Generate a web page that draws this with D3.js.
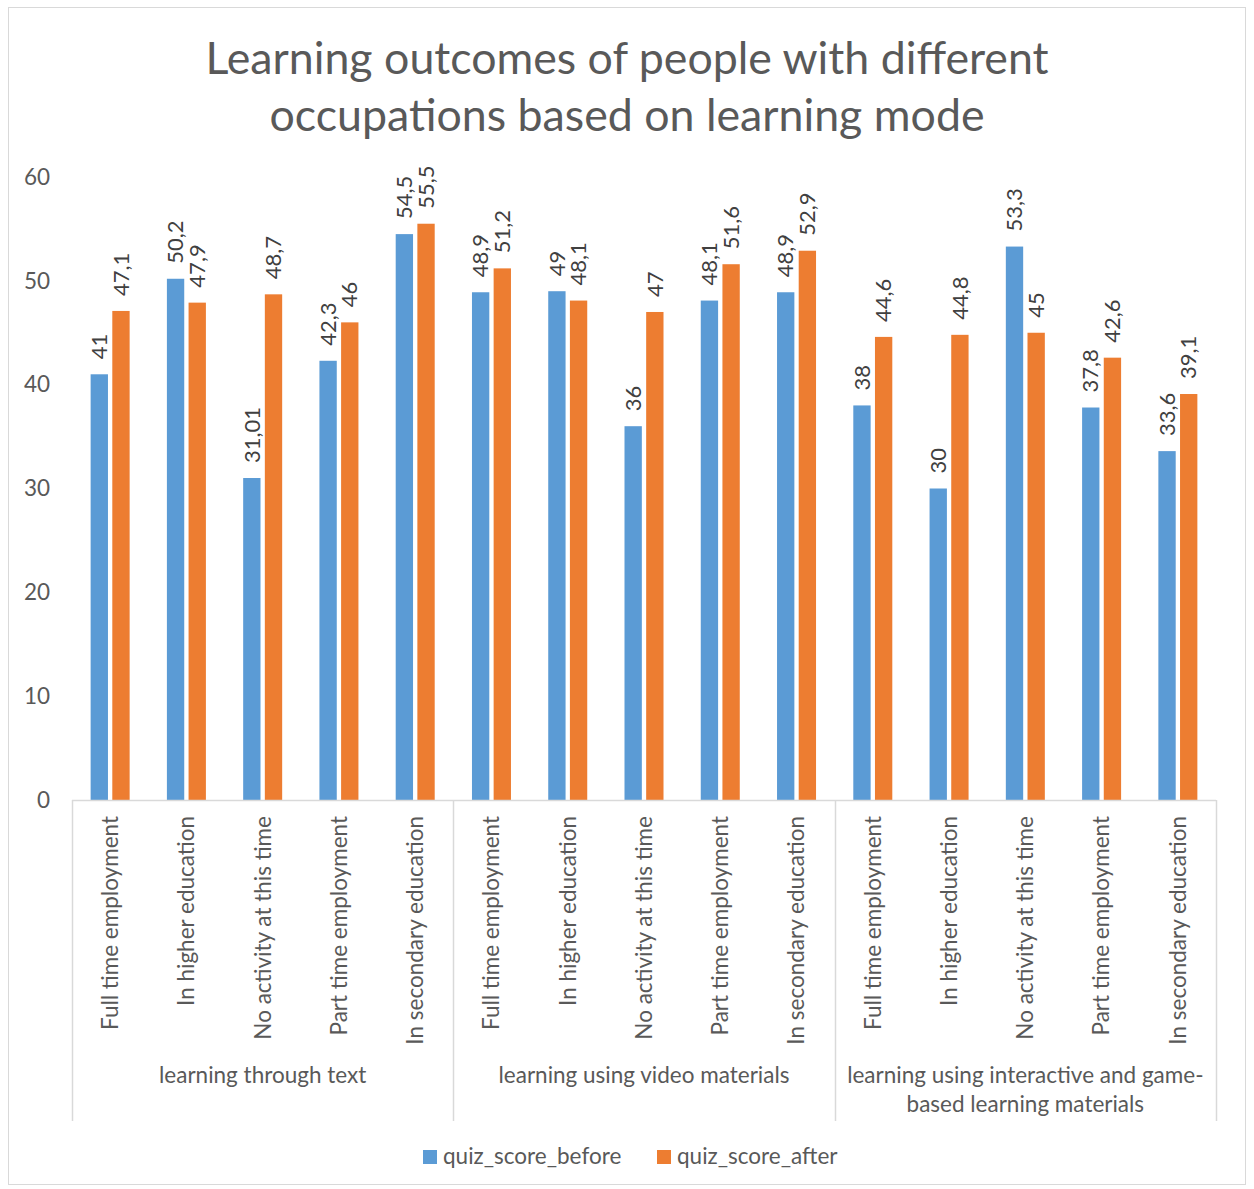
<!DOCTYPE html>
<html>
<head>
<meta charset="utf-8">
<script src="https://cdn.jsdelivr.net/npm/d3@7"></script>
<style>
  html, body { margin: 0; padding: 0; background: #fff; }
  svg { display: block; font-family: Lato, "Open Sans", sans-serif; }
</style>
</head>
<body>
<svg id="chart" width="1254" height="1189"></svg>
<script>
// Learning modes (outer categories) and occupations (inner categories)
const groups = [
  "learning through text",
  "learning using video materials",
  "learning using interactive and game-based learning materials"
];
const occupations = [
  "Full time employment",
  "In higher education",
  "No activity at this time",
  "Part time employment",
  "In secondary education"
];
const seriesNames = ["quiz_score_before", "quiz_score_after"];

// Scores per group, in occupation order
const scoreBefore = [
  [41, 50.2, 31.01, 42.3, 54.5],
  [48.9, 49, 36, 48.1, 48.9],
  [38, 30, 53.3, 37.8, 33.6]
];
const scoreAfter = [
  [47.1, 47.9, 48.7, 46, 55.5],
  [51.2, 48.1, 47, 51.6, 52.9],
  [44.6, 44.8, 45, 42.6, 39.1]
];
const yTicks = [0, 10, 20, 30, 40, 50, 60];

const colors = { quiz_score_before: "#5B9BD5", quiz_score_after: "#ED7D31" };
const textColor = "#595959";
const lineColor = "#D9D9D9";
const smallFont = 22.5;

const svg = d3.select("#chart");

// Outer chart border
svg.append("rect")
  .attr("x", 8.5).attr("y", 7.5)
  .attr("width", 1237).attr("height", 1177)
  .attr("fill", "#fff").attr("stroke", lineColor).attr("stroke-width", 1);

// Title
const title = svg.append("text")
  .attr("text-anchor", "middle")
  .attr("fill", textColor)
  .attr("font-size", 44.7);
title.append("tspan").attr("x", 627).attr("y", 74)
  .text("Learning outcomes of people with different");
title.append("tspan").attr("x", 627).attr("y", 131)
  .text("occupations based on learning mode");

// Flatten into one row per bar cluster
const rows = [];
groups.forEach((g, gi) => {
  occupations.forEach((o, oi) => {
    rows.push({
      key: gi + "|" + oi, group: g, gi, occupation: o,
      quiz_score_before: scoreBefore[gi][oi],
      quiz_score_after: scoreAfter[gi][oi]
    });
  });
});

const plotLeft = 72, plotRight = 1216;
const plotTop = 177, plotBottom = 800;

const x0 = d3.scaleBand()
  .domain(rows.map(r => r.key))
  .range([plotLeft, plotRight])
  .paddingInner(0).paddingOuter(0);
const clusterWidth = 39;
const x1 = d3.scaleBand()
  .domain(seriesNames)
  .range([-clusterWidth / 2, clusterWidth / 2])
  .paddingInner(0.2);
const y = d3.scaleLinear().domain([0, 60]).range([plotBottom, plotTop]);

// Y axis labels (no axis line)
const yAxis = svg.append("g")
  .attr("transform", `translate(${plotLeft},0)`)
  .call(d3.axisLeft(y).tickValues(yTicks).tickSize(0).tickPadding(22));
yAxis.select(".domain").remove();
yAxis.selectAll("text")
  .attr("fill", textColor)
  .attr("font-size", smallFont)
  .attr("font-family", "Lato, sans-serif");

const fmt = v => String(v).replace(".", ",");

// Bars and their value labels
const cluster = svg.append("g").selectAll("g")
  .data(rows).join("g")
  .attr("transform", d => `translate(${x0(d.key) + x0.bandwidth() / 2},0)`);

const bars = cluster.selectAll("g.bar")
  .data(d => seriesNames.map(s => ({ s, v: d[s] })))
  .join("g").attr("class", "bar");

bars.append("rect")
  .attr("x", d => x1(d.s))
  .attr("width", x1.bandwidth())
  .attr("y", d => y(d.v))
  .attr("height", d => y(0) - y(d.v))
  .attr("fill", d => colors[d.s]);

bars.append("text")
  .attr("transform", d => `translate(${x1(d.s) + x1.bandwidth() / 2},${y(d.v) - 15}) rotate(-90)`)
  .attr("text-anchor", "start")
  .attr("dy", "0.35em")
  .attr("fill", "#404040")
  .attr("font-size", 22)
  .text(d => fmt(d.v));

// Category axis line
svg.append("line")
  .attr("x1", plotLeft).attr("x2", plotRight)
  .attr("y1", plotBottom + 0.5).attr("y2", plotBottom + 0.5)
  .attr("stroke", lineColor).attr("stroke-width", 1.5);

// Occupation labels, rotated
svg.append("g").selectAll("text")
  .data(rows).join("text")
  .attr("transform", d => `translate(${x0(d.key) + x0.bandwidth() / 2},816) rotate(-90)`)
  .attr("text-anchor", "end")
  .attr("dy", "0.35em")
  .attr("fill", textColor)
  .attr("font-size", smallFont)
  .text(d => d.occupation);

// Group separators
const groupEdges = d3.range(groups.length + 1).map(i =>
  i < groups.length ? x0(i + "|0") : plotRight);
svg.append("g").selectAll("line")
  .data(groupEdges).join("line")
  .attr("x1", d => Math.round(d) + 0.5).attr("x2", d => Math.round(d) + 0.5)
  .attr("y1", plotBottom).attr("y2", 1121)
  .attr("stroke", lineColor).attr("stroke-width", 1.5);

// Group labels, wrapped to the group width
const groupLabels = svg.append("g").selectAll("text")
  .data(groups).join("text")
  .attr("text-anchor", "middle")
  .attr("fill", textColor)
  .attr("font-size", smallFont)
  .attr("y", 1083);

groupLabels.each(function (g, i) {
  const cx = (groupEdges[i] + groupEdges[i + 1]) / 2;
  const maxW = groupEdges[i + 1] - groupEdges[i] - 10;
  const el = d3.select(this);
  // break after spaces and hyphens
  const tokens = g.match(/[^\s-]+-?|\s+/g).filter(t => t.trim().length);
  const lines = [];
  let cur = "";
  const probe = el.append("tspan");
  tokens.forEach(t => {
    const sep = cur && !cur.endsWith("-") ? " " : "";
    const cand = cur + sep + t;
    probe.text(cand);
    if (cur && probe.node().getComputedTextLength() > maxW) {
      lines.push(cur);
      cur = t;
    } else {
      cur = cand;
    }
  });
  if (cur) lines.push(cur);
  probe.remove();
  lines.forEach((ln, li) => {
    el.append("tspan").attr("x", cx).attr("y", 1083 + li * 29).text(ln);
  });
});

// Legend
const legend = svg.append("g");
const legendItems = [
  { s: "quiz_score_before", x: 423 },
  { s: "quiz_score_after", x: 657 }
];
legendItems.forEach(it => {
  legend.append("rect")
    .attr("x", it.x).attr("y", 1150)
    .attr("width", 14).attr("height", 14)
    .attr("fill", colors[it.s]);
  legend.append("text")
    .attr("x", it.x + 20).attr("y", 1164)
    .attr("fill", textColor)
    .attr("font-size", smallFont)
    .text(it.s);
});
</script>
</body>
</html>
